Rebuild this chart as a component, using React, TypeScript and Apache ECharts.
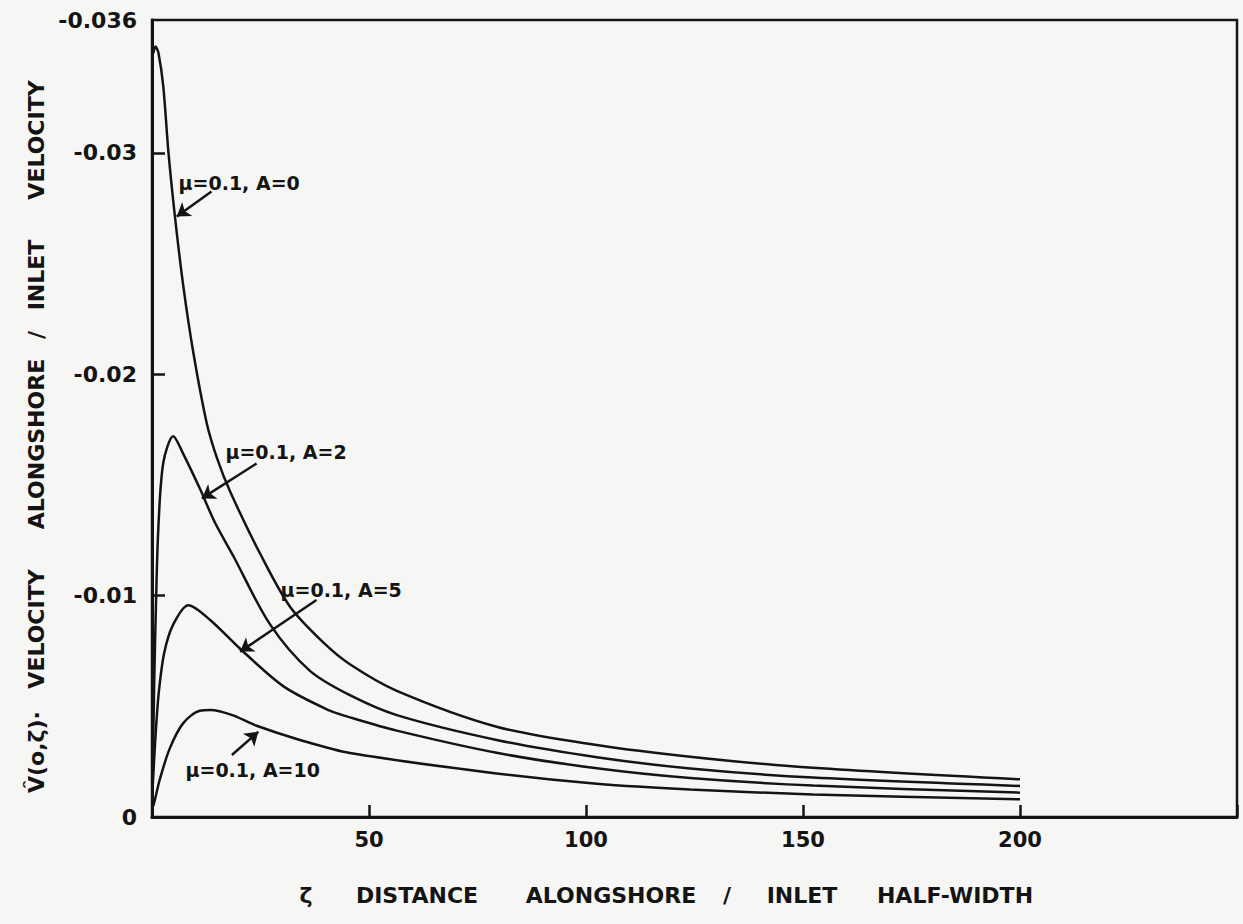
import React, { useEffect, useRef } from "react";
import * as echarts from "echarts";

// distance alongshore / inlet half-width (ζ) and velocity ratio for each curve
const distA0 = [0.3, 0.8, 1.5, 2.6, 3.8, 5.3, 7.2, 9.5, 12.6, 15.0, 18.0, 24.9, 31.8, 39.4, 45.6, 56.4, 79.4, 102.5, 124, 152.3, 200];
const velA0 = [-0.0345, -0.0348, -0.0345, -0.033, -0.03, -0.0271, -0.024, -0.021, -0.0178, -0.0162, -0.0147, -0.0119, -0.0095, -0.0079, -0.0069, -0.0057, -0.00408, -0.00325, -0.00272, -0.00222, -0.0017];

const distA2 = [0.2, 0.5, 0.9, 1.45, 2.6, 4.9, 7.2, 11.1, 14.5, 18.7, 27.2, 36.4, 45.6, 56.4, 79.4, 102.5, 124, 152.3, 200];
const velA2 = [-0.0025, -0.006, -0.0095, -0.013, -0.016, -0.0172, -0.0164, -0.0148, -0.0133, -0.0118, -0.0087, -0.0066, -0.0055, -0.0046, -0.00348, -0.0027, -0.00219, -0.00178, -0.0014];

const distA5 = [0.2, 0.7, 1.5, 2.8, 4.9, 8.4, 13.4, 20.3, 30.3, 41.0, 45.6, 56.4, 79.4, 102.5, 124, 152.3, 200];
const velA5 = [-0.0015, -0.0033, -0.0055, -0.0074, -0.0087, -0.00957, -0.0089, -0.0076, -0.0059, -0.0048, -0.0045, -0.0039, -0.0029, -0.0022, -0.00176, -0.00142, -0.0011];

const distA10 = [0.3, 0.7, 1.8, 4.1, 7.2, 11.0, 13.5, 18.5, 24.1, 34.1, 45.6, 79.4, 102.5, 124, 152.3, 200];
const velA10 = [-0.0005, -0.0008, -0.0017, -0.0031, -0.00424, -0.0048, -0.00483, -0.0046, -0.00412, -0.00348, -0.00289, -0.00197, -0.0015, -0.00124, -0.00102, -0.0008];

const curveNames = ["μ=0.1, A=0", "μ=0.1, A=2", "μ=0.1, A=5", "μ=0.1, A=10"];

// annotation label anchors (left edge, middle) and arrow [from, to] in data units
const labelAnchors: [number, number][] = [
  [6.0, -0.02864],
  [16.8, -0.01649],
  [29.5, -0.01025],
  [7.6, -0.00212],
];
const arrowFrom: [number, number][] = [
  [13.7, -0.02825],
  [24.1, -0.01597],
  [37.9, -0.0098],
  [18.4, -0.0028],
];
const arrowTo: [number, number][] = [
  [5.7, -0.02712],
  [11.5, -0.01439],
  [20.3, -0.00747],
  [24.5, -0.00385],
];

const yLabelValues = [-0.036, -0.03, -0.02, -0.01, 0];
const yTickValues = [-0.03, -0.02, -0.01];
const xLabelValues = [50, 100, 150, 200];

const FONT = '"DejaVu Sans", "Liberation Sans", sans-serif';
const INK = "#141414";

function zip(xs: number[], ys: number[]) {
  return xs.map((x, i) => [x, ys[i]]);
}

export default function App() {
  const ref = useRef<HTMLDivElement>(null);
  useEffect(() => {
    if (!ref.current) return;
    const chart = echarts.init(ref.current, undefined, { renderer: "svg" });
    const curves = [
      zip(distA0, velA0),
      zip(distA2, velA2),
      zip(distA5, velA5),
      zip(distA10, velA10),
    ];
    const series = curves.map((data, i) => ({
      type: "line",
      name: curveNames[i],
      data,
      showSymbol: false,
      smooth: 0.3,
      lineStyle: { color: INK, width: 2.5 },
      markLine: {
        silent: true,
        symbol: ["none", "arrow"],
        symbolSize: 13,
        label: { show: false },
        lineStyle: { color: INK, width: 2.5, type: "solid" },
        data: [[{ coord: arrowFrom[i] }, { coord: arrowTo[i] }]],
      },
      markPoint: {
        silent: true,
        symbol: "circle",
        symbolSize: 1,
        itemStyle: { color: "transparent" },
        label: {
          show: true,
          position: "right",
          distance: 0,
          color: INK,
          fontFamily: FONT,
          fontWeight: "bold",
          fontSize: 19,
          formatter: () => curveNames[i],
        },
        data: [{ coord: labelAnchors[i], name: curveNames[i] }],
      },
    }));

    const yFont = `bold 22px ${FONT}`;
    const yName = [
      { t: "V̂(o,ζ)·", y: 752 },
      { t: "VELOCITY", y: 629 },
      { t: "ALONGSHORE", y: 444 },
      { t: "/", y: 335 },
      { t: "INLET", y: 275 },
      { t: "VELOCITY", y: 140 },
    ];
    const xName = [
      { t: "ζ", x: 306 },
      { t: "DISTANCE", x: 417 },
      { t: "ALONGSHORE", x: 611 },
      { t: "/", x: 727 },
      { t: "INLET", x: 802 },
      { t: "HALF-WIDTH", x: 955 },
    ];

    chart.setOption({
      animation: false,
      backgroundColor: "#f6f6f4",
      grid: {
        left: 152,
        top: 20,
        width: 1085,
        height: 797,
        show: true,
        borderColor: INK,
        borderWidth: 2.5,
        backgroundColor: "transparent",
      },
      xAxis: {
        type: "value",
        min: 0,
        max: 250,
        interval: 50,
        axisLine: { show: true, lineStyle: { color: INK, width: 3 } },
        axisTick: { show: true, inside: true, length: 12, lineStyle: { color: INK, width: 2.5 } },
        splitLine: { show: false },
        axisLabel: {
          margin: 12,
          color: INK,
          fontFamily: FONT,
          fontWeight: "bold",
          fontSize: 21,
          formatter: (v: number) => (xLabelValues.includes(v) ? String(v) : ""),
        },
      },
      yAxis: {
        type: "value",
        min: -0.036,
        max: 0,
        inverse: true,
        axisLine: { show: true, lineStyle: { color: INK, width: 3 } },
        axisTick: {
          show: true,
          inside: true,
          length: 13,
          customValues: yTickValues,
          lineStyle: { color: INK, width: 2.5 },
        },
        splitLine: { show: false },
        axisLabel: {
          margin: 15,
          color: INK,
          fontFamily: FONT,
          fontWeight: "bold",
          fontSize: 22,
          customValues: yLabelValues,
          formatter: (v: number) => (Math.abs(v) < 1e-12 ? "0" : String(Number(v.toFixed(4)))),
        },
      },
      graphic: [
        ...yName.map((p) => ({
          type: "text",
          x: 36,
          y: p.y,
          rotation: Math.PI / 2,
          silent: true,
          style: {
            text: p.t,
            font: yFont,
            fill: INK,
            align: "center",
            verticalAlign: "middle",
            textAlign: "center",
            textVerticalAlign: "middle",
          },
        })),
        ...xName.map((p) => ({
          type: "text",
          x: p.x,
          y: 895,
          silent: true,
          style: {
            text: p.t,
            font: yFont,
            fill: INK,
            align: "center",
            verticalAlign: "middle",
            textAlign: "center",
            textVerticalAlign: "middle",
          },
        })),
      ],
      series,
    });
    return () => chart.dispose();
  }, []);
  return (
    <div
      ref={ref}
      style={{ position: "absolute", left: 0, top: 0, width: 1243, height: 924 }}
    />
  );
}
